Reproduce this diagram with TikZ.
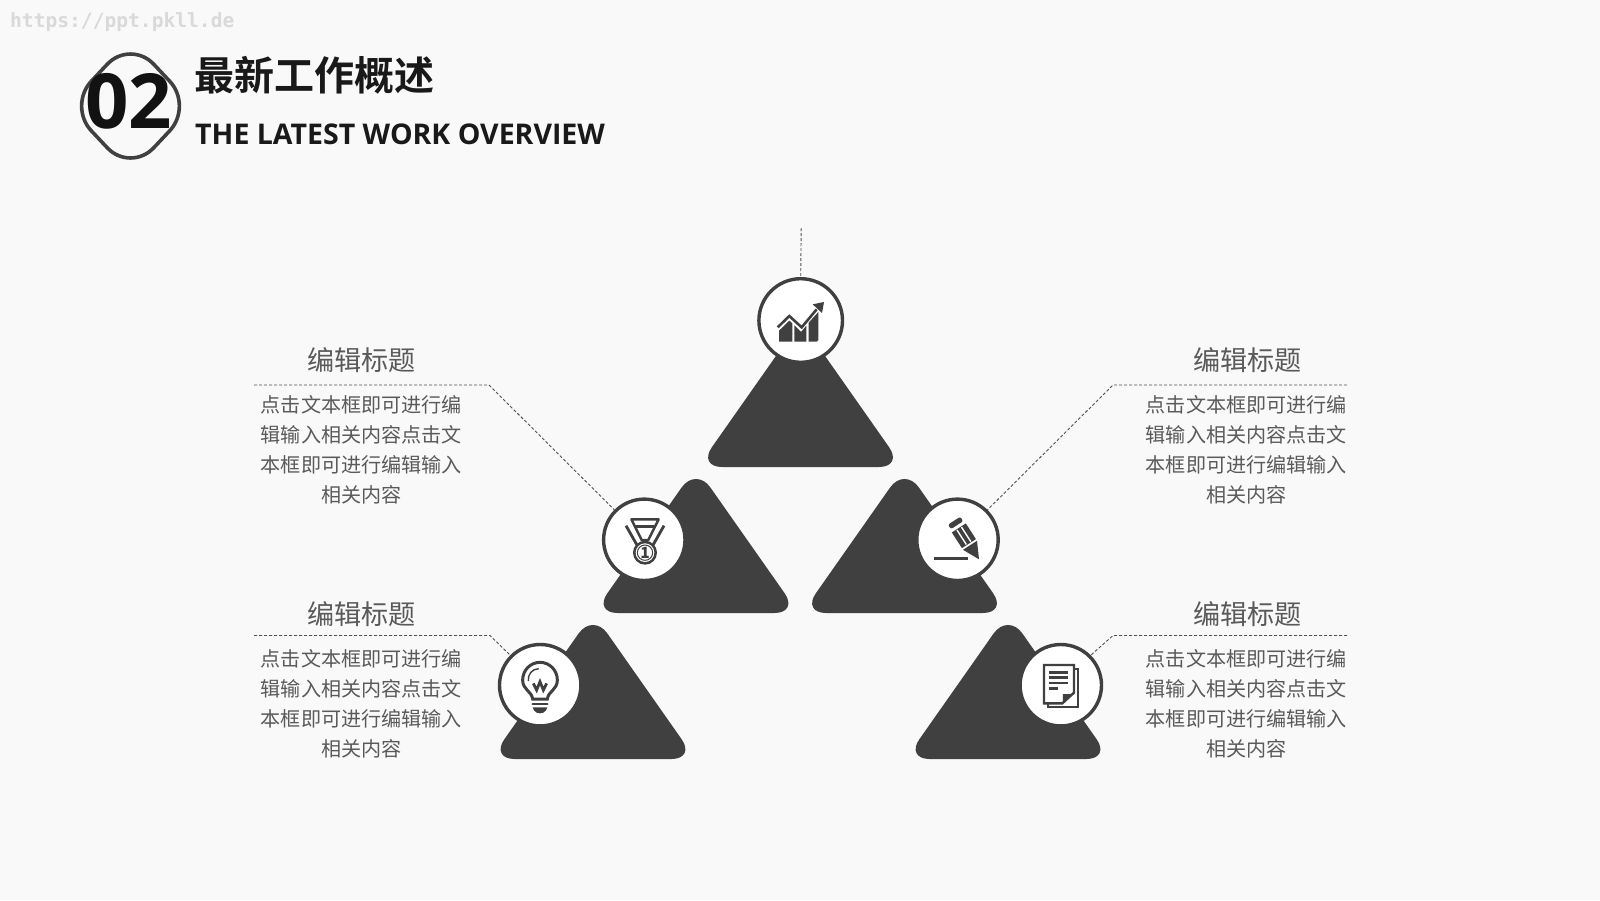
\documentclass[tikz,border=0pt]{standalone}
\usepackage{fontspec}
\setmainfont{Open Sans}
\newfontfamily\cjk{Noto Sans CJK SC}
\newfontfamily\cjkb{Noto Sans CJK SC Bold}
\newfontfamily\mono{DejaVu Sans Mono}
\definecolor{dk}{HTML}{404040}
\definecolor{bg}{HTML}{F9F9F9}
\definecolor{txt}{HTML}{5A5A5A}
\definecolor{dash}{HTML}{505050}
\tikzset{
  tri/.style={fill=dk},
  disc/.style={circle,draw=dk,fill=white,line width=3.4pt,minimum size=81.4pt,inner sep=0pt},
  leader/.style={draw=dash,line width=0.9pt,dash pattern=on 3pt off 2pt},
  titlecn/.style={font=\fontsize{27.1}{30}\selectfont\cjk,text=txt,inner sep=0pt},
  bodycn/.style={font=\fontsize{20.1}{29.9}\selectfont\cjk,text=txt,align=center,inner sep=0pt,text width=220pt},
}
\newcommand{\tribox}[3]{% x, sharp apex y, bottom y
  \fill[tri] (#1,#3) [rounded corners=24pt] -- (#1-102.5,#3) [rounded corners=25pt] -- (#1,#2) [rounded corners=24pt] -- (#1+102.5,#3) [sharp corners] -- cycle;}
\begin{document}
\begin{tikzpicture}[x=1pt,y=-1pt]
\useasboundingbox (0,0) rectangle (1600,900);
\fill[bg] (0,0) rectangle (1600,900);
% watermark
\node[anchor=west,inner sep=0pt,font=\fontsize{19.6}{20}\selectfont\mono\bfseries,text=black!15] (wm) at (10,22) {https://ppt.pkll.de};
% header
\draw[draw=dk,line width=3.6pt,rounded corners=34pt] (130.5,39.5) -- (193,106) -- (130.5,172.5) -- (68,106) -- cycle;
\node[inner sep=0pt,font=\fontsize{76}{80}\selectfont\bfseries,text=black!93] (num) at (128.5,101.5) {02};
\node[anchor=west,inner sep=0pt,font=\fontsize{40}{40}\selectfont\cjkb,text=black!90] (h1) at (194,75.5) {最新工作概述};
\node[anchor=west,inner sep=0pt,font=\fontsize{28.5}{30}\selectfont\bfseries,text=black!90] (h2) at (195,134.5) {THE LATEST WORK OVERVIEW};
% triangles
\tribox{800.5}{321}{467}
\tribox{696}{467}{613}
\tribox{904.5}{467}{613}
\tribox{593}{613}{759}
\tribox{1008}{613}{759}
% discs
\node[disc,minimum size=83.6pt] (c1) at (800.7,320.5) {};
\node[disc] (c2) at (644.3,539.8) {};
\node[disc] (c3) at (957.5,539.8) {};
\node[disc] (c4) at (540.2,685.2) {};
\node[disc] (c5) at (1060.8,685.2) {};
% leaders
\coordinate (t0) at (801.2,228);
\coordinate (a0) at (254,385);  \coordinate (a1) at (489,385);
\coordinate (b0) at (1347,385); \coordinate (b1) at (1113,385);
\coordinate (d0) at (254,635.5);  \coordinate (d1) at (490,635.5);
\coordinate (e0) at (1347,635.5); \coordinate (e1) at (1113,635.5);
\draw[leader] (t0) -- (c1.north);
\draw[leader] (a0) -- (a1) -- (c2.135);
\draw[leader] (b0) -- (b1) -- (c3.45);
\draw[leader] (d0) -- (d1) -- (c4.135);
\draw[leader] (e0) -- (e1) -- (c5.45);
% texts
\node[titlecn] (ta) at (361.5,360) {编辑标题};
\node[titlecn] (tb) at (1247.5,360) {编辑标题};
\node[titlecn] (td) at (361.5,614) {编辑标题};
\node[titlecn] (te) at (1247.5,614) {编辑标题};
\node[bodycn,anchor=north] (pa) at (361.3,395.5) {点击文本框即可进行编\\辑输入相关内容点击文\\本框即可进行编辑输入\\相关内容};
\node[bodycn,anchor=north] (pb) at (1246.3,395.5) {点击文本框即可进行编\\辑输入相关内容点击文\\本框即可进行编辑输入\\相关内容};
\node[bodycn,anchor=north] (pd) at (361.3,649.5) {点击文本框即可进行编\\辑输入相关内容点击文\\本框即可进行编辑输入\\相关内容};
\node[bodycn,anchor=north] (pe) at (1246.3,649.5) {点击文本框即可进行编\\辑输入相关内容点击文\\本框即可进行编辑输入\\相关内容};
% chart icon
\begin{scope}[shift={(765,290)},x=0.3333pt,y=-0.3333pt]
  \draw[dk,line width=2.6pt] (38,112) -- (73,78) -- (110,112) -- (155,58);
  \fill[dk] (177,36) -- (143,43) -- (171,69) -- cycle;
  \fill[dk] (42,155) -- (42,122) -- (73,92) -- (82,100) -- (82,155) -- cycle;
  \fill[dk] (88,155) -- (88,106) -- (108,126) -- (124,107) -- (124,155) -- cycle;
  \fill[dk] (131,155) -- (131,98) -- (160,66) -- (160,150) -- (155,155) -- cycle;
\end{scope}
% medal icon
\begin{scope}[shift={(610,505)},x=0.3333pt,y=-0.3333pt]
  \draw[dk,line width=2.4pt,line join=round] (64,43) -- (146,43) -- (115,105) -- (95,105) -- cycle;
  \draw[dk,line width=2.6pt] (74,64) -- (136,64);
  \draw[dk,line width=2.8pt] (48,62) -- (82,122);
  \draw[dk,line width=2.8pt] (162,62) -- (128,122);
  \fill[dk] (105,143) circle (36);
  \fill[white] (105,143) circle (28);
  \draw[dk,line width=1pt] (105,143) circle (23);
  \node[inner sep=0pt,font=\fontsize{15.5}{16}\selectfont\bfseries\cjk,text=dk] (one) at (105,143) {1};
\end{scope}
% pencil icon
\draw[dk,line width=2.6pt] (934,558.7) -- (968.3,558.7);
\begin{scope}[shift={(979,559.3)},x={(0.28pt,0.18pt)},y={(0.18pt,-0.28pt)}]
  \fill[dk] (0,0) -- (-25,-50) -- (25,-50) -- cycle;
  \fill[dk] (-25,-56) -- (25,-56) -- (25,-112) -- (-25,-112) -- cycle;
  \draw[white,line width=1.4pt] (-8,-58) -- (-8,-110) (8,-58) -- (8,-110);
  \fill[dk,rounded corners=2pt] (-22,-138) -- (22,-138) -- (22,-122) -- (-22,-122) -- cycle;
\end{scope}
% bulb icon
\begin{scope}[shift={(510,655)},x=0.3333pt,y=-0.3333pt]
  \draw[dk,line width=3pt] (68,132) .. controls (65,108) and (38,105) .. (38,75) .. controls (38,45) and (62,22) .. (90,22) .. controls (118,22) and (142,45) .. (142,75) .. controls (142,105) and (115,108) .. (112,132) -- cycle;
  \draw[dk,line width=1.4pt] (55,78) .. controls (53,58) and (66,42) .. (86,41);
  \draw[dk,line width=2.8pt] (70,85) -- (80,105) -- (90,80) -- (100,105) -- (110,85);
  \draw[dk,line width=2.4pt,line cap=round] (68,147) -- (112,147);
  \fill[dk] (68,157) -- (112,157) -- (108,166) .. controls (102,178) and (78,178) .. (72,166) -- cycle;
\end{scope}
% document icon
\begin{scope}[shift={(905,620)},x=0.3333pt,y=-0.3333pt]
  \draw[dk,line width=2pt] (507,147) -- (518,147) -- (518,262) -- (428,262) -- (428,250);
  \draw[dk,line width=2.4pt] (472,250) -- (417,250) -- (417,135) -- (507,135) -- (507,218) -- cycle;
  \fill[dk] (474,222) -- (503,222) -- (474,250) -- cycle;
  \draw[dk,line width=2.6pt] (432,157) -- (490,157) (432,173) -- (490,173) (432,189) -- (490,189) (432,206) -- (460,206);
\end{scope}
\end{tikzpicture}
\end{document}
